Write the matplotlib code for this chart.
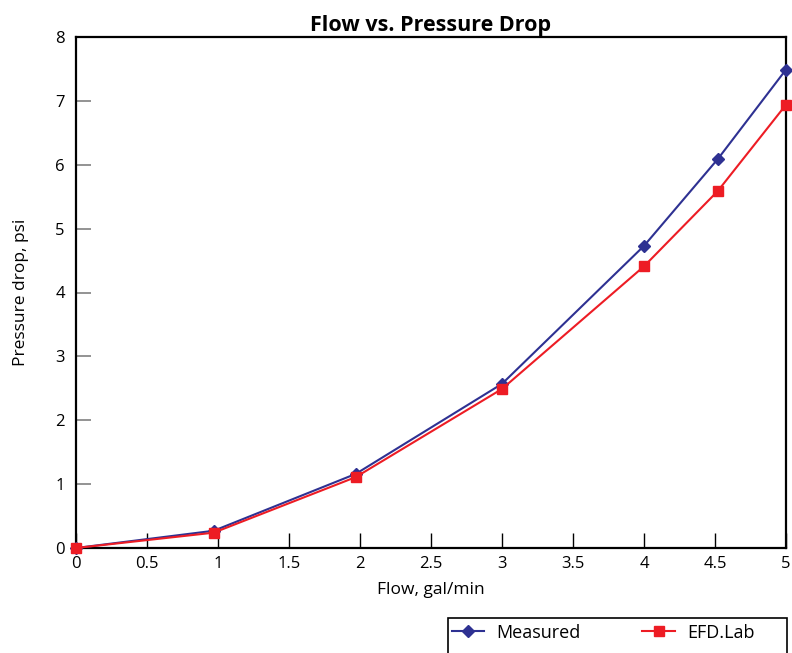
import matplotlib
matplotlib.use("Agg")
import matplotlib.pyplot as plt
from matplotlib.patches import Rectangle

# data
flow = [0, 0.97, 1.97, 3.0, 4.0, 4.52, 5.0]
measured = [0, 0.27, 1.16, 2.57, 4.73, 6.09, 7.49]
efd_lab = [0, 0.24, 1.11, 2.49, 4.41, 5.59, 6.94]

x_ticks = [0, 0.5, 1, 1.5, 2, 2.5, 3, 3.5, 4, 4.5, 5]
x_labels = ["0", "0.5", "1", "1.5", "2", "2.5", "3", "3.5", "4", "4.5", "5"]
y_ticks = [0, 1, 2, 3, 4, 5, 6, 7, 8]

plt.rcParams['font.family'] = ['Open Sans', 'DejaVu Sans']

W, H = 792, 653
fig = plt.figure(figsize=(W/100, H/100), dpi=100)
ax = fig.add_axes([76/W, 1-548/H, 710/W, 511/H])

ax.plot(flow, measured, color='#2e3192', lw=1.5, marker='D', ms=6.5,
        clip_on=False, zorder=3, label='Measured')
ax.plot(flow, efd_lab, color='#ed1c24', lw=1.5, marker='s', ms=6.5,
        clip_on=False, zorder=4, label='EFD.Lab')

ax.set_xlim(0, 5)
ax.set_ylim(0, 8)
ax.set_xticks(x_ticks)
ax.set_xticklabels(x_labels)
ax.set_yticks(y_ticks)
ax.tick_params(axis='x', direction='in', length=11, width=1, color='black',
               labelsize=12, pad=6)
ax.tick_params(axis='y', direction='in', length=11, width=1.2, color='#808080',
               labelsize=12, pad=8)
for s in ax.spines.values():
    s.set_linewidth(1.6)

ax.set_title('Flow vs. Pressure Drop', fontsize=15.5, fontweight='bold', pad=4)
ax.set_xlabel('Flow, gal/min', fontsize=12.5, labelpad=7)
ax.set_ylabel('Pressure drop, psi', fontsize=12.5, labelpad=19)

# legend box (frame drawn separately so it can run off the bottom edge)
fig.patches.append(Rectangle((448/W, -0.05), (787-448)/W, 0.05 + 1-618/H,
                             transform=fig.transFigure, fill=False,
                             edgecolor='black', lw=1.2))
fig.legend(loc='upper left', bbox_to_anchor=(448/W, 1-620/H),
           ncol=2, fontsize=13, frameon=False, columnspacing=3.4,
           handlelength=1.8, handletextpad=0.7, borderpad=0.2,
           borderaxespad=0)

fig.savefig('out.png', dpi=100)
